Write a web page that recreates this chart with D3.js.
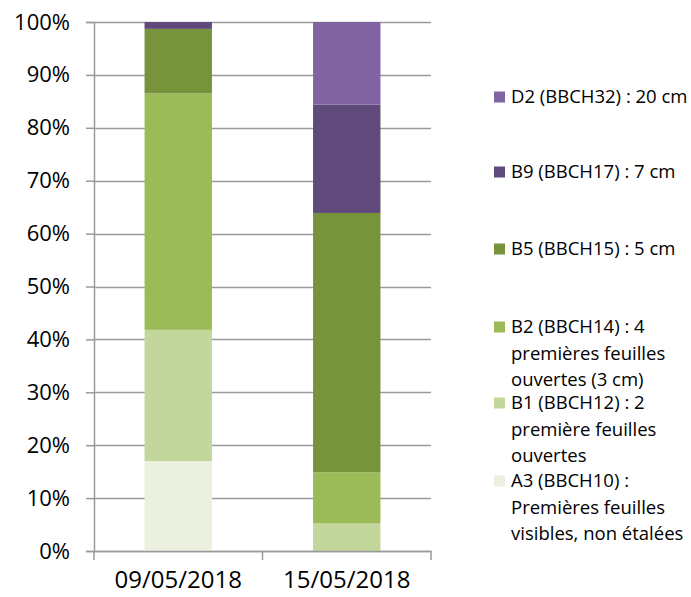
<!DOCTYPE html>
<html>
<head>
<meta charset="utf-8">
<script src="https://cdn.jsdelivr.net/npm/d3@7"></script>
<style>
  body { margin: 0; background: #fff; }
  text { font-family: "Open Sans", "DejaVu Sans", sans-serif; fill: #000; }
</style>
</head>
<body>
<script>
// dates on the x axis
var dates = ["09/05/2018", "15/05/2018"];
// stages, bottom to top of the stack
var stages = ["A3", "B1", "B2", "B5", "B9", "D2"];
var stageLabels = [
    ["A3 (BBCH10) :", "Premières feuilles", "visibles, non étalées"],
    ["B1 (BBCH12) : 2", "première feuilles", "ouvertes"],
    ["B2 (BBCH14) : 4", "premières feuilles", "ouvertes (3 cm)"],
    ["B5 (BBCH15) : 5 cm"],
    ["B9 (BBCH17) : 7 cm"],
    ["D2 (BBCH32) : 20 cm"]
];
var stageColors = ["#EBF1DE", "#C3D69B", "#9BBB59", "#77933C", "#604A7B", "#8064A2"];
// share (%) of each stage per date
var valA3 = [17, 0];
var valB1 = [24.8, 5.2];
var valB2 = [44.7, 9.7];
var valB5 = [12.2, 49];
var valB9 = [1.3, 20.5];
var valD2 = [0, 15.6];
var yTicks = [0, 0.1, 0.2, 0.3, 0.4, 0.5, 0.6, 0.7, 0.8, 0.9, 1];

var width = 691, height = 597;
var margin = {left: 94, right: 260, top: 22, bottom: 46};

var rows = dates.map(function(d, i) {
    return {date: d, A3: valA3[i], B1: valB1[i], B2: valB2[i], B5: valB5[i], B9: valB9[i], D2: valD2[i]};
});

var svg = d3.select("body")
    .append("svg")
    .attr("width", width)
    .attr("height", height);

var x = d3.scaleBand()
    .domain(dates)
    .range([margin.left, width - margin.right])
    .paddingInner(0.6)
    .paddingOuter(0.3);

var y = d3.scaleLinear()
    .domain([0, 1])
    .range([height - margin.bottom, margin.top]);

// gridlines
svg.append("g")
    .selectAll("line")
    .data(yTicks)
    .enter()
    .append("line")
    .attr("x1", margin.left)
    .attr("x2", width - margin.right)
    .attr("y1", function(d) { return Math.round(y(d)) + 0.5; })
    .attr("y2", function(d) { return Math.round(y(d)) + 0.5; })
    .style("stroke", "#9a9a9a")
    .style("stroke-width", 1.5);

// stacked bars
var series = d3.stack().keys(stages)(rows);
svg.append("g")
    .selectAll("g")
    .data(series)
    .enter()
    .append("g")
    .attr("fill", function(d, i) { return stageColors[i]; })
    .selectAll("rect")
    .data(function(d) { return d; })
    .enter()
    .append("rect")
    .attr("x", function(d) { return x(d.data.date); })
    .attr("width", x.bandwidth())
    .attr("y", function(d) { return y(d[1] / 100); })
    .attr("height", function(d) { return y(d[0] / 100) - y(d[1] / 100); });

// y axis
var yAxis = svg.append("g")
    .attr("transform", "translate(" + margin.left + ",0)")
    .call(d3.axisLeft(y).tickValues(yTicks).tickFormat(d3.format(".0%")).tickSize(8).tickPadding(16));
yAxis.select(".domain").style("stroke", "#9a9a9a").style("stroke-width", 1.5);
yAxis.selectAll(".tick line").style("stroke", "#9a9a9a").style("stroke-width", 1.5);
yAxis.selectAll("text").style("font-size", "22px").style("font-family", "'Open Sans', sans-serif").attr("fill", "#000");

// x axis with category separators
var xAxis = svg.append("g")
    .attr("transform", "translate(0," + y(0) + ")")
    .call(d3.axisBottom(x).tickSize(0).tickPadding(20));
xAxis.select(".domain").style("stroke", "#9a9a9a").style("stroke-width", 1.5);
xAxis.selectAll("text").style("font-size", "24px").style("font-family", "'Open Sans', sans-serif").attr("fill", "#000");
var seps = d3.range(dates.length + 1).map(function(i) { return margin.left + i * (width - margin.right - margin.left) / dates.length; });
xAxis.selectAll(".sep")
    .data(seps)
    .enter()
    .append("line")
    .attr("x1", function(d) { return d; })
    .attr("x2", function(d) { return d; })
    .attr("y1", 0)
    .attr("y2", 9)
    .style("stroke", "#9a9a9a")
    .style("stroke-width", 1.5);

// legend, top item first
var legendTop = [97, 172, 249, 327, 403, 481];
var legend = svg.append("g");
var order = d3.range(stages.length).reverse();
order.forEach(function(si, k) {
    var g = legend.append("g").attr("transform", "translate(494," + legendTop[k] + ")");
    g.append("rect")
        .attr("x", 0)
        .attr("y", -5.5)
        .attr("width", 11)
        .attr("height", 11)
        .attr("fill", stageColors[si]);
    g.selectAll("text")
        .data(stageLabels[si])
        .enter()
        .append("text")
        .attr("x", 17)
        .attr("y", function(_, j) { return j * 26.5; })
        .attr("dy", "0.35em")
        .style("font-size", "18.5px")
        .text(function(d) { return d; });
});
</script>
</body>
</html>
